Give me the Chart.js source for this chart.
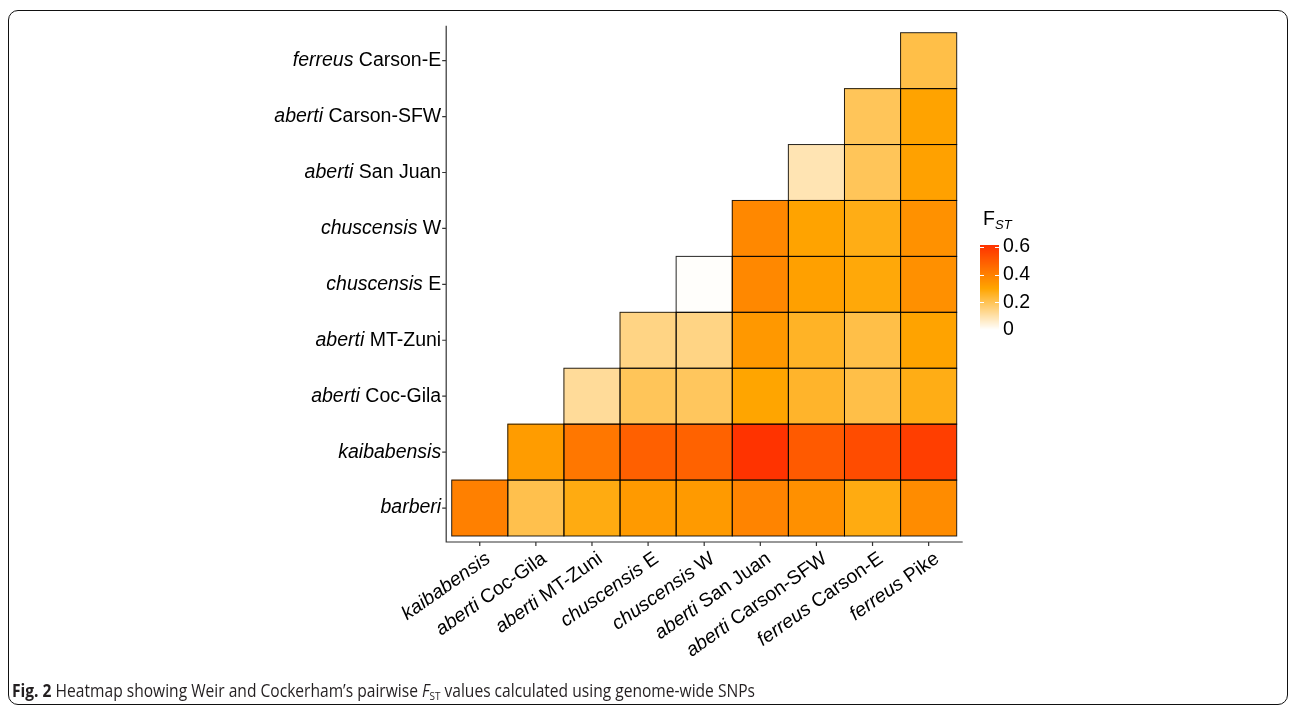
<!DOCTYPE html>
<html>
<head>
<meta charset="utf-8">
<script src="https://cdn.jsdelivr.net/npm/chart.js@4.4.1/dist/chart.umd.min.js"></script>
<style>
    body { margin: 0; background: #fff; width: 1290px; height: 706px; overflow: hidden; position: relative; }
    #frame { position: absolute; left: 8px; top: 10px; width: 1280px; height: 695px; border: 1.6px solid #111; border-radius: 10px; box-sizing: border-box; }
    #wrap { position: absolute; left: 0; top: 0; width: 1290px; height: 706px; }
    #caption { position: absolute; left: 12px; top: 678px; font-family: "Open Sans", sans-serif; font-size: 18px; color: #231f20; white-space: nowrap; transform-origin: 0 0; transform: scaleX(0.866); }
    #caption b { font-weight: 700; }
    #caption sub { font-size: 11.5px; vertical-align: -3px; font-style: normal; }
</style>
</head>
<body>
<div id="frame"></div>
<div id="wrap"><canvas id="fst-chart" width="1290" height="706"></canvas></div>
<div id="caption"><b>Fig. 2</b> Heatmap showing Weir and Cockerham’s pairwise <i>F</i><sub>ST</sub> values calculated using genome-wide SNPs</div>
<script>
const xPops = ['kaibabensis', 'aberti Coc-Gila', 'aberti MT-Zuni', 'chuscensis E', 'chuscensis W', 'aberti San Juan', 'aberti Carson-SFW', 'ferreus Carson-E', 'ferreus Pike']
const yPops = ['barberi', 'kaibabensis', 'aberti Coc-Gila', 'aberti MT-Zuni', 'chuscensis E', 'chuscensis W', 'aberti San Juan', 'aberti Carson-SFW', 'ferreus Carson-E']

// pairwise Fst, one list per row population, starting from the diagonal
const fstBarberi = [0.40, 0.21, 0.28, 0.33, 0.33, 0.39, 0.357, 0.28, 0.368]
const fstKaibabensis = [0.325, 0.425, 0.488, 0.483, 0.61, 0.504, 0.542, 0.58]
const fstCocGila = [0.12, 0.195, 0.19, 0.30, 0.25, 0.215, 0.275]
const fstMTZuni = [0.145, 0.145, 0.335, 0.255, 0.215, 0.305]
const fstChuscensisE = [0.005, 0.38, 0.314, 0.29, 0.357]
const fstChuscensisW = [0.38, 0.305, 0.275, 0.355]
const fstSanJuan = [0.09, 0.195, 0.31]
const fstCarsonSFW = [0.195, 0.305]
const fstCarsonE = [0.215]
const fstRows = [fstBarberi, fstKaibabensis, fstCocGila, fstMTZuni, fstChuscensisE, fstChuscensisW, fstSanJuan, fstCarsonSFW, fstCarsonE]

const legendTicks = [0, 0.2, 0.4, 0.6]

// white -> orange -> red-orange
const colorStops = [[0, [255, 255, 255]], [0.3, [255, 165, 0]], [0.61, [255, 51, 0]]]
function fstColor(v) {
    for (let k = 1; k < colorStops.length; k++) {
        const [v0, c0] = colorStops[k - 1]
        const [v1, c1] = colorStops[k]
        if (v <= v1 || k === colorStops.length - 1) {
            const t = Math.max(0, Math.min(1, (v - v0) / (v1 - v0)))
            const c = c0.map((a, n) => Math.round(a + (c1[n] - a) * t))
            return `rgb(${c[0]},${c[1]},${c[2]})`
        }
    }
}

const allFst = fstRows.flat()
const fstMin = Math.min(...allFst)
const fstMax = Math.max(...allFst)

const datasets = fstRows.map((row, j) => {
    const offset = xPops.length - row.length
    return {
        label: yPops[j],
        data: xPops.map((p, i) => i < offset ? null : [j - 0.5, j + 0.5]),
        backgroundColor: xPops.map((p, i) => i < offset ? 'transparent' : fstColor(row[i - offset])),
        borderWidth: 0,
        barPercentage: 1,
        categoryPercentage: 1,
        grouped: false
    }
})

function drawLabel(ctx, text, x, y, size) {
    // first word is the italic taxon name, the rest upright
    const sp = text.indexOf(' ')
    const ital = sp < 0 ? text : text.slice(0, sp)
    const rest = sp < 0 ? '' : text.slice(sp)
    ctx.font = `${size}px "Liberation Sans", Arial, sans-serif`
    const wr = ctx.measureText(rest).width
    ctx.textAlign = 'right'
    ctx.fillText(rest, x, y)
    ctx.font = `italic ${size}px "Liberation Sans", Arial, sans-serif`
    ctx.fillText(ital, x - wr, y)
}

const heatmapDecor = {
    id: 'heatmapDecor',
    afterDatasetsDraw(chart) {
        const ctx = chart.ctx
        const area = chart.chartArea
        const xs = chart.scales.x
        const ys = chart.scales.y

        // cell outlines
        ctx.save()
        ctx.strokeStyle = 'rgba(0,0,0,0.85)'
        ctx.lineWidth = 1
        chart.data.datasets.forEach((ds, j) => {
            chart.getDatasetMeta(j).data.forEach((bar, i) => {
                if (ds.data[i] == null) return
                const w = bar.width
                ctx.strokeRect(bar.x - w / 2, Math.min(bar.y, bar.base), w, Math.abs(bar.base - bar.y))
            })
        })
        ctx.restore()

        // axes
        const axX = area.left - 5.5
        const axY = area.bottom + 6
        ctx.save()
        ctx.strokeStyle = '#333'
        ctx.lineWidth = 1.2
        ctx.beginPath()
        ctx.moveTo(axX, area.top - 7)
        ctx.lineTo(axX, axY)
        ctx.lineTo(area.right + 6, axY)
        yPops.forEach((p, j) => {
            const y = ys.getPixelForValue(j)
            ctx.moveTo(axX - 4, y)
            ctx.lineTo(axX, y)
        })
        xPops.forEach((p, i) => {
            const x = xs.getPixelForValue(i)
            ctx.moveTo(x, axY)
            ctx.lineTo(x, axY + 4)
        })
        ctx.stroke()

        ctx.fillStyle = '#000'
        ctx.textBaseline = 'middle'
        yPops.forEach((p, j) => drawLabel(ctx, p, axX - 5, ys.getPixelForValue(j), 19.5))

        ctx.textBaseline = 'top'
        xPops.forEach((p, i) => {
            ctx.save()
            ctx.translate(xs.getPixelForValue(i) + 3, axY + 7)
            ctx.rotate(-35 * Math.PI / 180)
            drawLabel(ctx, p, 0, 0, 19.5)
            ctx.restore()
        })

        // colour bar legend
        const barL = 980, barW = 19, zeroY = 330, pxPerUnit = 138.3
        const yOf = v => zeroY - v * pxPerUnit
        const top = yOf(fstMax), bot = yOf(fstMin)
        for (let y = Math.floor(top); y < bot; y++) {
            const v = fstMin + (bot - y - 0.5) / (bot - top) * (fstMax - fstMin)
            ctx.fillStyle = fstColor(v)
            ctx.fillRect(barL, y, barW, 1)
        }
        ctx.strokeStyle = '#fff'
        ctx.lineWidth = 1
        ctx.beginPath()
        legendTicks.forEach(v => {
            const y = Math.round(yOf(v)) + 0.5
            if (y < top || y > bot) return
            ctx.moveTo(barL, y); ctx.lineTo(barL + 4, y)
            ctx.moveTo(barL + barW - 4, y); ctx.lineTo(barL + barW, y)
        })
        ctx.stroke()
        ctx.fillStyle = '#000'
        ctx.textAlign = 'left'
        ctx.textBaseline = 'middle'
        ctx.font = '19.5px "Liberation Sans", Arial, sans-serif'
        legendTicks.forEach(v => ctx.fillText(String(v), barL + barW + 4, yOf(v)))
        ctx.textBaseline = 'alphabetic'
        ctx.fillText('F', 983, 225)
        ctx.font = 'italic 13px "Liberation Sans", Arial, sans-serif'
        ctx.fillText('ST', 995, 229)
        ctx.restore()
    }
}

new Chart(document.getElementById('fst-chart'), {
    type: 'bar',
    data: { labels: xPops, datasets },
    options: {
        responsive: false,
        animation: false,
        devicePixelRatio: 1,
        layout: { padding: { left: 451.7, right: 333.3, top: 32.7, bottom: 170 } },
        plugins: { legend: { display: false }, tooltip: { enabled: false } },
        scales: {
            x: { type: 'category', display: false, offset: true, grid: { display: false } },
            y: { type: 'linear', min: -0.5, max: 8.5, display: false, grid: { display: false } }
        }
    },
    plugins: [heatmapDecor]
})
</script>
</body>
</html>
